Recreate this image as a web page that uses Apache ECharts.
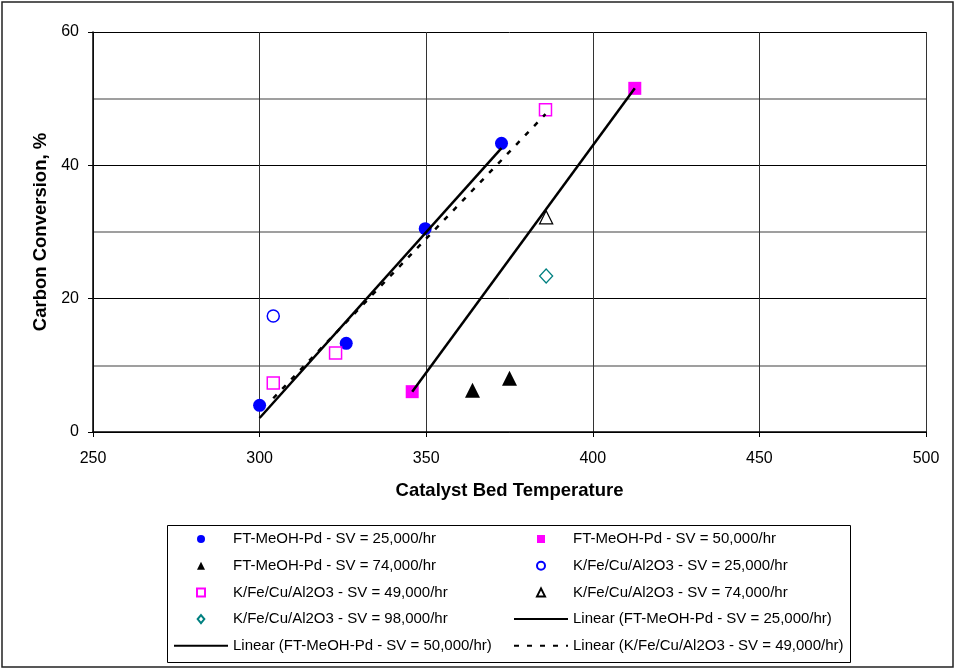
<!DOCTYPE html>
<html>
<head>
<meta charset="utf-8">
<script src="https://cdn.jsdelivr.net/npm/echarts@6/dist/echarts.min.js"></script>
<style>
html,body{margin:0;padding:0;background:#fff;}
#chart{width:955px;height:670px;}
</style>
</head>
<body>
<div id="chart"></div>
<script>
// ---- data ----
var xTicks = [250, 300, 350, 400, 450, 500];
var yTicks = [0, 20, 40, 60];

var ft25_x = [300, 326, 349.7, 372.6];
var ft25_y = [4.0, 13.3, 30.5, 43.3];

var ft50_x = [345.8, 412.6];
var ft50_y = [6.05, 51.55];

var ft74_x = [363.9, 375.0];
var ft74_y = [6.25, 8.05];

var kfe25_x = [304.1];
var kfe25_y = [17.4];

var kfe49_x = [304.1, 322.8, 385.8];
var kfe49_y = [7.35, 11.85, 48.35];

var kfe74_x = [386.0];
var kfe74_y = [32.2];

var kfe98_x = [386.0];
var kfe98_y = [23.4];

var names = [
  'FT-MeOH-Pd - SV = 25,000/hr',
  'FT-MeOH-Pd - SV = 50,000/hr',
  'FT-MeOH-Pd - SV = 74,000/hr',
  'K/Fe/Cu/Al2O3 - SV = 25,000/hr',
  'K/Fe/Cu/Al2O3 - SV = 49,000/hr',
  'K/Fe/Cu/Al2O3 - SV = 74,000/hr',
  'K/Fe/Cu/Al2O3 - SV = 98,000/hr',
  'Linear (FT-MeOH-Pd - SV = 25,000/hr)',
  'Linear (FT-MeOH-Pd - SV = 50,000/hr)',
  'Linear (K/Fe/Cu/Al2O3 - SV = 49,000/hr)'
];

// ---- helpers ----
function pairs(xs, ys) { return xs.map(function (x, i) { return [x, ys[i]]; }); }
// least-squares trend line (as a spreadsheet trendline), spanning the data's x range
function trend(xs, ys) {
  var n = xs.length, mx = 0, my = 0, sxy = 0, sxx = 0;
  for (var i = 0; i < n; i++) { mx += xs[i]; my += ys[i]; }
  mx /= n; my /= n;
  for (var j = 0; j < n; j++) { sxy += (xs[j] - mx) * (ys[j] - my); sxx += (xs[j] - mx) * (xs[j] - mx); }
  var b = sxy / sxx, a = my - b * mx;
  var x0 = Math.min.apply(null, xs), x1 = Math.max.apply(null, xs);
  return [[x0, a + b * x0], [x1, a + b * x1]];
}

var FONT = '"Liberation Sans", Arial, sans-serif';

// legend icon shapes (kept square inside the wide legend icon box)
var ICON = {
  circle: 'circle',
  rect: 'path://M0,0L10,0L10,10L0,10Z',
  triangle: 'path://M5,0L10,10L0,10Z',
  diamond: 'path://M5,0L10,6L5,12L0,6Z'
};
var seriesSymbol = [];

function scatter(name, data, symbol, size, style) {
  style.opacity = 1;
  seriesSymbol.push(symbol);
  return { name: name, type: 'scatter', data: data, symbol: symbol, symbolSize: size,
    itemStyle: style, z: 2, emphasis: { disabled: true } };
}
function trendLine(name, data, type) {
  return { name: name, type: 'line', data: data, symbol: 'none', z: 4,
    lineStyle: { color: '#000', width: 2.5, type: type, cap: 'butt' },
    itemStyle: { color: '#000' }, emphasis: { disabled: true } };
}

var series = [
  scatter(names[0], pairs(ft25_x, ft25_y), 'circle', 13, { color: '#0000FF' }),
  scatter(names[1], pairs(ft50_x, ft50_y), 'rect', 13, { color: '#FF00FF' }),
  scatter(names[2], pairs(ft74_x, ft74_y), 'triangle', 15, { color: '#000000' }),
  scatter(names[3], pairs(kfe25_x, kfe25_y), 'circle', 12, { color: 'rgba(255,255,255,0)', borderColor: '#0000FF', borderWidth: 1.5 }),
  scatter(names[4], pairs(kfe49_x, kfe49_y), 'rect', 12, { color: 'rgba(255,255,255,0)', borderColor: '#FF00FF', borderWidth: 1.5 }),
  scatter(names[5], pairs(kfe74_x, kfe74_y), 'triangle', 13, { color: 'rgba(255,255,255,0)', borderColor: '#000000', borderWidth: 1.3 }),
  scatter(names[6], pairs(kfe98_x, kfe98_y), 'diamond', [13, 14], { color: 'rgba(255,255,255,0)', borderColor: '#008080', borderWidth: 1.3 }),
  trendLine(names[7], trend(ft25_x, ft25_y), 'solid'),
  trendLine(names[8], trend(ft50_x, ft50_y), 'solid'),
  trendLine(names[9], trend(kfe49_x, kfe49_y), [5, 8])
];

function legendItem(i) {
  if (i >= 7) return { name: names[i], itemStyle: { opacity: 0 } };
  return { name: names[i], icon: ICON[seriesSymbol[i]], symbolKeepAspect: true };
}

function legendCol(left, idx) {
  return {
    orient: 'vertical', left: left, top: 531, padding: 0,
    itemWidth: 54, itemHeight: 8, itemGap: 10.7,
    symbolKeepAspect: true,
    selectedMode: false,
    data: idx.map(legendItem),
    textStyle: { fontFamily: FONT, fontSize: 15, color: '#000', lineHeight: 16 }
  };
}

var option = {
  animation: false,
  backgroundColor: '#fff',
  grid: { left: 93, top: 32, right: 29, bottom: 238, containLabel: false },
  xAxis: {
    type: 'value', min: 250, max: 500, interval: 50,
    name: 'Catalyst Bed Temperature', nameLocation: 'middle', nameGap: 49,
    nameTextStyle: { fontFamily: FONT, fontSize: 18.5, fontWeight: 'bold', color: '#000' },
    axisLine: { show: true, onZero: false, lineStyle: { color: '#000', width: 1.5 } },
    axisTick: { show: true, inside: false, length: 5, lineStyle: { color: '#000' } },
    axisLabel: { fontFamily: FONT, fontSize: 16, color: '#000', margin: 19,
      formatter: function (v) { return xTicks.indexOf(v) >= 0 ? String(v) : ''; } },
    splitLine: { show: true, lineStyle: { color: '#333', width: 1 } }
  },
  yAxis: {
    type: 'value', min: 0, max: 60, interval: 20,
    name: 'Carbon Conversion, %', nameLocation: 'middle', nameGap: 42, nameRotate: 90,
    nameTextStyle: { fontFamily: FONT, fontSize: 18.5, fontWeight: 'bold', color: '#000' },
    axisLine: { show: true, lineStyle: { color: '#000', width: 1.5 } },
    axisTick: { show: true, inside: false, length: 5, lineStyle: { color: '#000' } },
    axisLabel: { fontFamily: FONT, fontSize: 16, color: '#000', margin: 14,
      formatter: function (v) { return yTicks.indexOf(v) >= 0 ? String(v) : ''; } },
    splitLine: { show: true, lineStyle: { color: '#000', width: 1 } },
    minorTick: { show: false, splitNumber: 2 },
    minorSplitLine: { show: true, lineStyle: { color: '#808080', width: 1.5 } }
  },
  legend: [
    legendCol(173, [0, 2, 4, 6, 8]),
    legendCol(513, [1, 3, 5, 7, 9])
  ],
  graphic: [
    { type: 'rect', shape: { x: 2, y: 2, width: 951, height: 665 }, silent: true, z: -1,
      style: { fill: 'none', stroke: '#222', lineWidth: 1.5 } },
    { type: 'rect', shape: { x: 167.5, y: 525.5, width: 683, height: 137 }, silent: true, z: -1,
      style: { fill: 'none', stroke: '#000', lineWidth: 1 } }
  ],
  series: series
};

var chart = echarts.init(document.getElementById('chart'), null, { renderer: 'canvas' });
chart.setOption(option);
</script>
</body>
</html>
